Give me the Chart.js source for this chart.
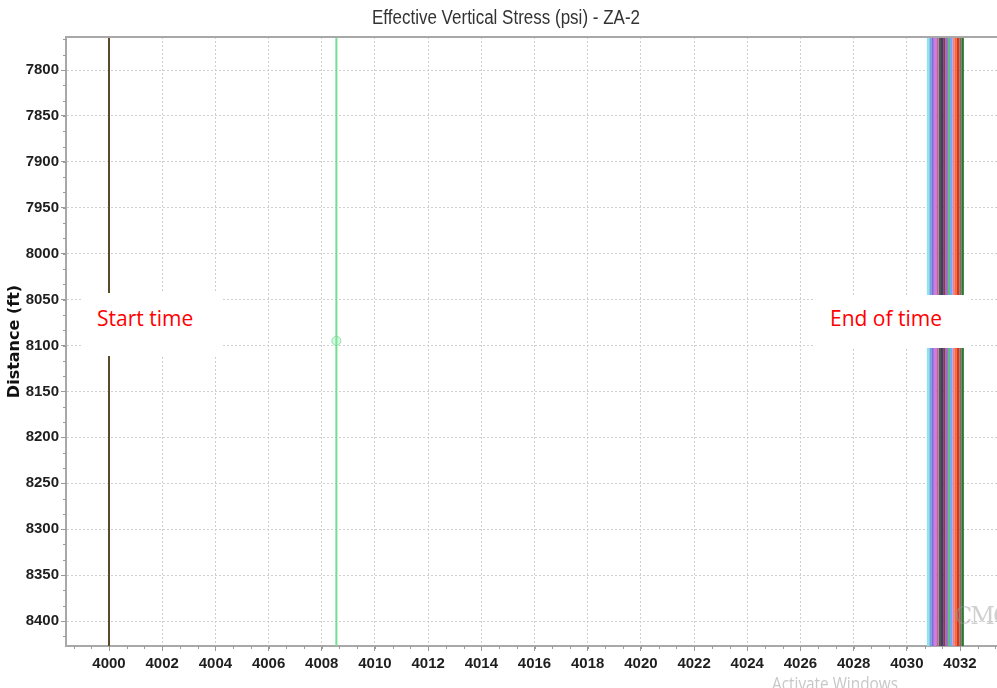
<!DOCTYPE html>
<html>
<head>
<meta charset="utf-8">
<script src="https://cdn.jsdelivr.net/npm/chart.js@4.4.1/dist/chart.umd.min.js"></script>
<style>
html,body{margin:0;padding:0;background:#fff;}
#wrap{position:relative;width:997px;height:688px;overflow:hidden;background:#fff;}
#c{position:absolute;left:0;top:0;}
#title{position:absolute;left:0;top:7px;font-family:"Liberation Sans",Arial,sans-serif;font-size:20px;line-height:20px;color:#333;white-space:nowrap;transform-origin:0 50%;}
.note{position:absolute;background:#fff;color:#ff0000;font-family:"Open Sans","Noto Sans",sans-serif;font-size:21px;line-height:26px;white-space:nowrap;}
.note span{position:absolute;}
#cmg{position:absolute;left:954px;top:602px;font-family:"DejaVu Serif",serif;font-size:24px;color:rgba(150,150,150,0.45);letter-spacing:-2px;}
#act{position:absolute;left:772px;top:673px;font-family:"Open Sans",sans-serif;font-size:19px;line-height:20px;color:#c8c8c8;white-space:nowrap;transform-origin:0 50%;}
</style>
</head>
<body>
<div id="wrap">
<canvas id="c" width="997" height="688"></canvas>
<div id="title">Effective Vertical Stress (psi) - ZA-2</div>
<div class="note" style="left:82px;top:293px;width:141px;height:63px;"><span style="left:15px;top:12px;">Start time</span></div>
<div class="note" style="left:813px;top:295px;width:157px;height:53px;"><span style="left:17px;top:10px;">End of time</span></div>
<div id="cmg">CMG</div>
<div id="act">Activate Windows</div>
</div>
<script>
// ---- data ----
const depthFt = [7700, 8095, 8500];            // profile depths (ft)
const seriesNames = ['Start', 'Step 1', 'End 1', 'End 2', 'End 3', 'End 4', 'End 5', 'End 6', 'End 7', 'End 8',
                     'End 9', 'End 10', 'End 11', 'End 12', 'End 13', 'End 14', 'End 15', 'End 16'];
const stressPsi = [4000.00, 4008.55,
                   4030.80, 4030.89, 4030.97, 4031.06, 4031.15, 4031.24, 4031.32, 4031.41,
                   4031.50, 4031.58, 4031.67, 4031.76, 4031.84, 4031.93, 4032.02, 4032.10];
const markerDepth = 8095;
const xTickStep = 2;
const yTickStep = 50;

// ---- text fit (narrow face emulation) ----
function fitWidth(id, targetW, leftX) {
  const t = document.getElementById(id);
  const w = t.getBoundingClientRect().width;
  t.style.transform = 'scaleX(' + (targetW / w) + ')';
  t.style.left = leftX + 'px';
}
fitWidth('title', 268, 372);
fitWidth('act', 126, 772);

// ---- styles ----
const palette = ['#5a4a26', '#6fe090',
  '#8fe3ea', '#6f9fe0', '#8a66d6', '#c97ee2', '#c0609e', '#555555', '#3e4066', '#8a3a58',
  '#9d6ad2', '#5fbf7a', '#72a6ff', '#ee7f9a', '#ff6a1e', '#d2372a', '#7a7060', '#2a7a2c'];

const datasets = stressPsi.map((s, i) => ({
  label: seriesNames[i],
  data: depthFt.map(d => ({x: s, y: d})),
  borderColor: palette[i],
  backgroundColor: i === 1 ? 'rgba(140,235,170,0.35)' : palette[i],
  borderWidth: i < 2 ? 2 : 2.4,
  pointRadius: depthFt.map(d => (i === 1 && d === markerDepth) ? 4.5 : 0),
  pointBorderWidth: 1,
  pointBorderColor: 'rgba(120,220,150,0.8)',
  pointHoverRadius: 0,
  tension: 0,
  fill: false
}));

const tickFont = {family: '"Liberation Sans",Arial,sans-serif', size: 15, weight: 'bold'};
const plain = v => String(Math.round(v));

const decor = {
  id: 'decor',
  afterDraw(chart) {
    const {ctx, chartArea: a, scales: {x, y}} = chart;
    ctx.save();
    ctx.strokeStyle = '#a8a8a8';
    ctx.lineWidth = 2;
    ctx.beginPath();
    ctx.moveTo(a.left, a.top); ctx.lineTo(a.right, a.top);
    ctx.stroke();
    ctx.lineWidth = 1;
    ctx.strokeStyle = '#9a9a9a';
    ctx.beginPath();
    const xs = Math.ceil(x.min / (xTickStep / 3));
    for (let k = xs; k * xTickStep / 3 <= x.max; k++) {
      const px = Math.round(x.getPixelForValue(k * xTickStep / 3)) + 0.5;
      ctx.moveTo(px, a.bottom); ctx.lineTo(px, a.bottom + 3);
    }
    const ys = Math.ceil(y.min / (yTickStep / 3));
    for (let k = ys; k * yTickStep / 3 <= y.max; k++) {
      const py = Math.round(y.getPixelForValue(k * yTickStep / 3)) + 0.5;
      ctx.moveTo(a.left, py); ctx.lineTo(a.left - 3, py);
    }
    ctx.stroke();
    ctx.restore();
  }
};

new Chart(document.getElementById('c'), {
  type: 'line',
  data: {datasets},
  options: {
    responsive: false,
    animation: false,
    events: [],
    layout: {padding: {top: 37, left: 0, right: 0, bottom: 0}},
    plugins: {legend: {display: false}, tooltip: {enabled: false}, title: {display: false}},
    scales: {
      x: {
        type: 'linear',
        min: 3998.383, max: 4033.391,
        afterFit(s) { s.height = 42; },
        ticks: {stepSize: xTickStep, includeBounds: false, maxRotation: 0, autoSkip: false, font: tickFont, color: '#1e1e1e', padding: 4, callback: plain},
        grid: {color: '#cfcfcf', lineWidth: 1, tickLength: 5, tickColor: '#9a9a9a', tickBorderDash: []},
        border: {display: true, color: '#a8a8a8', width: 2, dash: [2, 2]}
      },
      y: {
        type: 'linear',
        reverse: true,
        min: 7764.06, max: 8427.2,
        afterFit(s) { s.width = 66; },
        ticks: {stepSize: yTickStep, includeBounds: false, font: tickFont, color: '#1e1e1e', padding: 2, callback: plain},
        grid: {color: '#cfcfcf', lineWidth: 1, tickLength: 5, tickColor: '#9a9a9a', tickBorderDash: []},
        border: {display: true, color: '#a8a8a8', width: 2, dash: [2, 2]},
        title: {display: true, text: 'Distance (ft)', color: '#111', font: {family: '"DejaVu Sans",sans-serif', size: 16, weight: 'bold'}, padding: {top: 5, bottom: 0}}
      }
    }
  },
  plugins: [decor]
});
</script>
</body>
</html>
